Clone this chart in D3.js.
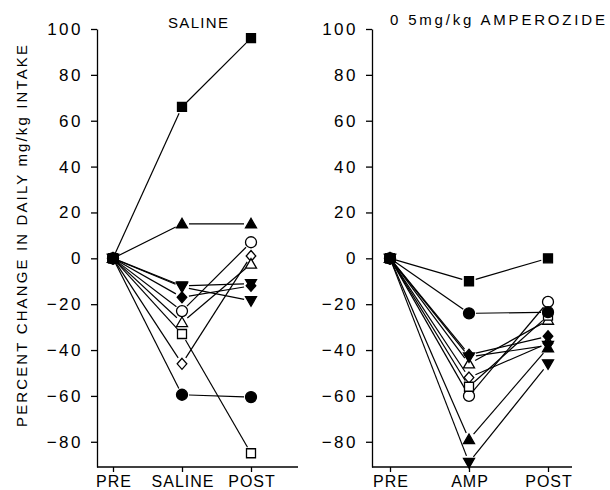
<!DOCTYPE html>
<html>
<head>
<meta charset="utf-8">
<script src="https://cdn.jsdelivr.net/npm/d3@7"></script>
<style>
  body { margin: 0; background: #fff; }
  svg { display: block; font-family: "Liberation Sans", Arial, sans-serif; }
  .axis path, .axis line { stroke: #000; stroke-width: 1.3; }
  .axis text { fill: #000; font-size: 17px; letter-spacing: 2.5px; }
  .axis.x text { font-size: 16px; letter-spacing: 1px; }
</style>
</head>
<body>
<svg id="chart" width="610" height="490"></svg>
<script>
// one entry per animal, same order in both panels
var markers = ["sqF", "triF", "circO", "diaO", "triO", "triDa", "triDb", "diaF", "sqO", "circF"];

var salineLabels = ["PRE", "SALINE", "POST"];
var salineValues = [
  [0, 66, 96],
  [0, 15, 15],
  [0, -23, 7],
  [0, -46, 1],
  [0, -28, -2.5],
  [0, -12, -11],
  [0, -12.5, -18.5],
  [0, -17, -12],
  [0, -33, -85],
  [0, -59.5, -60.5]
];

var ampLabels = ["PRE", "AMP", "POST"];
var ampValues = [
  [0, -10, 0],
  [0, -79, -39],
  [0, -60, -19],
  [0, -52, -37],
  [0, -46, -27],
  [0, -43, -38],
  [0, -89, -46],
  [0, -42, -34],
  [0, -56, -25],
  [0, -24, -23.5]
];

var yTicks = [-80, -60, -40, -20, 0, 20, 40, 60, 80, 100];

var svg = d3.select("#chart");

var y = d3.scaleLinear()
  .domain([-91, 100])
  .range([467, 29]);

// marker shapes, drawn around 0,0
function shape(f) {
  return { draw: f };
}
var shapes = {
  sq: shape(function(c) { c.rect(-4.5, -4.5, 9, 9); }),
  circ: shape(function(c) { c.moveTo(5.5, 0); c.arc(0, 0, 5.5, 0, 2 * Math.PI); }),
  triUp: shape(function(c) { c.moveTo(0, -5.5); c.lineTo(5.5, 4); c.lineTo(-5.5, 4); c.closePath(); }),
  triDown: shape(function(c) { c.moveTo(0, 5.5); c.lineTo(5.5, -4); c.lineTo(-5.5, -4); c.closePath(); }),
  dia: shape(function(c) { c.moveTo(0, -5.5); c.lineTo(4.8, 0); c.lineTo(0, 5.5); c.lineTo(-4.8, 0); c.closePath(); })
};
var shapeOf = {
  sqF: ["sq", true], sqO: ["sq", false],
  circF: ["circ", true], circO: ["circ", false],
  triF: ["triUp", true], triO: ["triUp", false],
  triDa: ["triDown", true], triDb: ["triDown", true],
  diaF: ["dia", true], diaO: ["dia", false]
};

var gap = 7;

function panel(axisX, xRange, axisEnd, labels, values, title, titleX, titleY, titleLen) {
  var x = d3.scalePoint()
    .domain(labels)
    .range(xRange);

  var g = svg.append("g");

  // y axis
  g.append("g")
    .attr("class", "axis")
    .attr("transform", "translate(" + axisX + ",0)")
    .call(d3.axisLeft(y).tickValues(yTicks).tickSize(6).tickSizeOuter(0).tickPadding(8));

  // x axis: line runs past the last category, so draw it by hand
  var xa = g.append("g")
    .attr("class", "axis x")
    .attr("transform", "translate(0," + y.range()[0] + ")")
    .call(d3.axisBottom(x).tickSize(5).tickPadding(4));
  xa.select(".domain").remove();
  xa.selectAll(".tick text").attr("dx", "0.5px");
  xa.append("line")
    .attr("x1", axisX)
    .attr("x2", axisEnd)
    .attr("stroke", "#000")
    .attr("stroke-width", 1.3);

  // connecting lines, stopped short of the markers
  var segs = [];
  values.forEach(function(v, i) {
    for (var k = 1; k < v.length; k++) {
      var x1 = x(labels[k - 1]), y1 = y(v[k - 1]),
          x2 = x(labels[k]), y2 = y(v[k]);
      var len = Math.sqrt((x2 - x1) * (x2 - x1) + (y2 - y1) * (y2 - y1));
      var g1 = k === 1 ? 3 : gap;
      segs.push({
        x1: x1 + (x2 - x1) * g1 / len, y1: y1 + (y2 - y1) * g1 / len,
        x2: x2 - (x2 - x1) * gap / len, y2: y2 - (y2 - y1) * gap / len
      });
    }
  });
  g.selectAll("line.link")
    .data(segs)
    .enter().append("line")
    .attr("class", "link")
    .attr("x1", function(d) { return d.x1; })
    .attr("y1", function(d) { return d.y1; })
    .attr("x2", function(d) { return d.x2; })
    .attr("y2", function(d) { return d.y2; })
    .attr("stroke", "#000")
    .attr("stroke-width", 1.2);

  // markers, open ones first so filled ones sit on top at PRE
  var pts = [];
  values.forEach(function(v, i) {
    v.forEach(function(val, k) {
      pts.push({ m: markers[i], cat: labels[k], val: val });
    });
  });
  pts.sort(function(a, b) { return shapeOf[a.m][1] - shapeOf[b.m][1]; });

  g.selectAll("path.mark")
    .data(pts)
    .enter().append("path")
    .attr("class", "mark")
    .attr("transform", function(d) { return "translate(" + x(d.cat) + "," + y(d.val) + ")"; })
    .attr("d", function(d) { return d3.symbol().type(shapes[shapeOf[d.m][0]])(); })
    .attr("fill", function(d) { return shapeOf[d.m][1] ? "#000" : "#fff"; })
    .attr("stroke", "#000")
    .attr("stroke-width", 1.3);

  g.append("text")
    .attr("x", titleX)
    .attr("y", titleY)
    .attr("font-size", 15)
    .attr("textLength", titleLen)
    .attr("lengthAdjust", "spacing")
    .text(title);
}

panel(97, [113, 251], 298, salineLabels, salineValues, "SALINE", 168, 28, 60);
panel(372, [390, 548], 572, ampLabels, ampValues, "0 5mg/kg AMPEROZIDE", 390, 25, 215);

svg.append("text")
  .attr("transform", "translate(27,236) rotate(-90)")
  .attr("text-anchor", "middle")
  .attr("font-size", 15)
  .attr("textLength", 382)
  .attr("lengthAdjust", "spacing")
  .text("PERCENT CHANGE IN DAILY mg/kg INTAKE");
</script>
</body>
</html>
